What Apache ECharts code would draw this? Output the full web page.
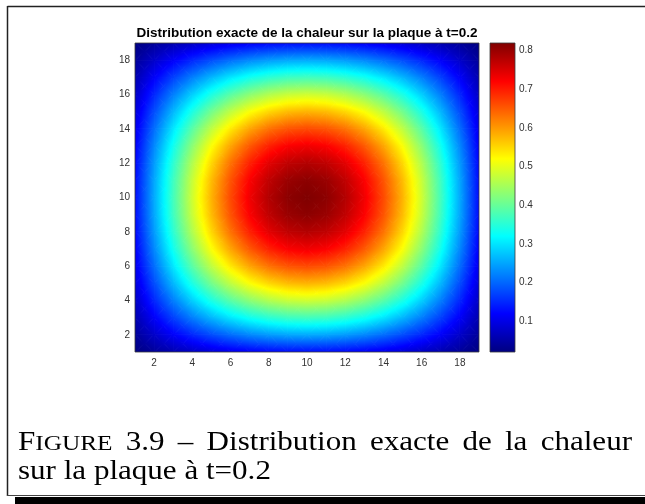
<!DOCTYPE html>
<html><head><meta charset="utf-8">
<script src="https://cdn.jsdelivr.net/npm/echarts@6/dist/echarts.min.js"></script>
<style>html,body{margin:0;padding:0;background:#fff}#c{width:645px;height:504px}</style>
</head><body><div id="c"></div>
<script>
// ---- data ----
const xValues = [1,2,3,4,5,6,7,8,9,10,11,12,13,14,15,16,17,18,19];
const yValues = [1,2,3,4,5,6,7,8,9,10,11,12,13,14,15,16,17,18,19];
const heatValues = [
 [.020,.040,.058,.075,.091,.104,.114,.122,.127,.128,.127,.122,.114,.104,.091,.075,.058,.040,.020],
 [.040,.078,.115,.149,.179,.205,.226,.241,.250,.253,.250,.241,.226,.205,.179,.149,.115,.078,.040],
 [.058,.115,.169,.219,.263,.301,.332,.354,.368,.372,.368,.354,.332,.301,.263,.219,.169,.115,.058],
 [.075,.149,.219,.283,.341,.390,.429,.458,.476,.482,.476,.458,.429,.390,.341,.283,.219,.149,.075],
 [.091,.179,.263,.341,.410,.469,.517,.551,.573,.580,.573,.551,.517,.469,.410,.341,.263,.179,.091],
 [.104,.205,.301,.390,.469,.537,.591,.631,.655,.663,.655,.631,.591,.537,.469,.390,.301,.205,.104],
 [.114,.226,.332,.429,.517,.591,.651,.695,.722,.731,.722,.695,.651,.591,.517,.429,.332,.226,.114],
 [.122,.241,.354,.458,.551,.631,.695,.742,.770,.780,.770,.742,.695,.631,.551,.458,.354,.241,.122],
 [.127,.250,.368,.476,.573,.655,.722,.770,.800,.810,.800,.770,.722,.655,.573,.476,.368,.250,.127],
 [.128,.253,.372,.482,.580,.663,.731,.780,.810,.820,.810,.780,.731,.663,.580,.482,.372,.253,.128],
 [.127,.250,.368,.476,.573,.655,.722,.770,.800,.810,.800,.770,.722,.655,.573,.476,.368,.250,.127],
 [.122,.241,.354,.458,.551,.631,.695,.742,.770,.780,.770,.742,.695,.631,.551,.458,.354,.241,.122],
 [.114,.226,.332,.429,.517,.591,.651,.695,.722,.731,.722,.695,.651,.591,.517,.429,.332,.226,.114],
 [.104,.205,.301,.390,.469,.537,.591,.631,.655,.663,.655,.631,.591,.537,.469,.390,.301,.205,.104],
 [.091,.179,.263,.341,.410,.469,.517,.551,.573,.580,.573,.551,.517,.469,.410,.341,.263,.179,.091],
 [.075,.149,.219,.283,.341,.390,.429,.458,.476,.482,.476,.458,.429,.390,.341,.283,.219,.149,.075],
 [.058,.115,.169,.219,.263,.301,.332,.354,.368,.372,.368,.354,.332,.301,.263,.219,.169,.115,.058],
 [.040,.078,.115,.149,.179,.205,.226,.241,.250,.253,.250,.241,.226,.205,.179,.149,.115,.078,.040],
 [.020,.040,.058,.075,.091,.104,.114,.122,.127,.128,.127,.122,.114,.104,.091,.075,.058,.040,.020]
];
const xTickLabels = ['2','4','6','8','10','12','14','16','18'];
const yTickLabels = ['2','4','6','8','10','12','14','16','18'];
const colorbarTickLabels = ['0.1','0.2','0.3','0.4','0.5','0.6','0.7','0.8'];
const titleText = 'Distribution exacte de la chaleur sur la plaque à t=0.2';
const captionWords1 = ['FIGURE','3.9','–','Distribution','exacte','de','la','chaleur'];
const captionLine2 = 'sur la plaque à t=0.2';

// ---- colour scale ----
const flat = heatValues.flat();
const cmin = Math.min(...flat), cmax = Math.max(...flat);
function jet(t){
  t = Math.max(0, Math.min(1, t));
  const c = x => Math.round(255 * Math.max(0, Math.min(1, 1.5 - Math.abs(x))));
  return 'rgb(' + c(4*t-3) + ',' + c(4*t-2) + ',' + c(4*t-1) + ')';
}
const norm = v => (v - cmin) / (cmax - cmin);

// cells between grid nodes
const cells = [];
for (let r = 0; r < yValues.length - 1; r++) {
  for (let c = 0; c < xValues.length - 1; c++) {
    cells.push([xValues[c], yValues[r], xValues[c+1], yValues[r+1],
      heatValues[r][c], heatValues[r][c+1], heatValues[r+1][c], heatValues[r+1][c+1]]);
  }
}

function tri(P, V){
  const x0=P[0][0], y0=P[0][1];
  const dx1=P[1][0]-x0, dy1=P[1][1]-y0, dx2=P[2][0]-x0, dy2=P[2][1]-y0;
  const dv1=V[1]-V[0], dv2=V[2]-V[0];
  const det = dx1*dy2 - dx2*dy1;
  const a = (dv1*dy2 - dv2*dy1)/det, b = (dx1*dv2 - dx2*dv1)/det;
  const g = Math.hypot(a, b);
  let fill;
  if (!isFinite(g) || g < 1e-12) {
    fill = jet(norm(V[0]));
  } else {
    const nx=a/g, ny=b/g;
    const s = P.map(p => p[0]*nx + p[1]*ny);
    const smin = Math.min(...s), smax = Math.max(...s);
    const L = smax - smin;
    const Ax = x0 + nx*(smin - s[0]), Ay = y0 + ny*(smin - s[0]);
    const vA = V[0] + g*(smin - s[0]);
    const stops = [];
    const K = 6;
    for (let k = 0; k <= K; k++) {
      const t = k/K;
      stops.push({offset: t, color: jet(norm(vA + g*L*t))});
    }
    fill = {type:'linear', x:Ax, y:Ay, x2:Ax+nx*L, y2:Ay+ny*L, colorStops:stops, global:true};
  }
  return {type:'polygon', shape:{points:P}, style:{fill:fill, stroke:fill, lineWidth:1}, silent:true};
}

function renderCell(params, api){
  const X0=api.value(0), Y0=api.value(1), X1=api.value(2), Y1=api.value(3);
  const v00=api.value(4), v10=api.value(5), v01=api.value(6), v11=api.value(7);
  const p00=api.coord([X0,Y0]), p10=api.coord([X1,Y0]), p01=api.coord([X0,Y1]), p11=api.coord([X1,Y1]);
  const pc=[(p00[0]+p11[0])/2, (p00[1]+p11[1])/2];
  const vc=(v00+v10+v01+v11)/4;
  return {type:'group', children:[
    tri([p00,p10,pc],[v00,v10,vc]),
    tri([p10,p11,pc],[v10,v11,vc]),
    tri([p11,p01,pc],[v11,v01,vc]),
    tri([p01,p00,pc],[v01,v00,vc])
  ]};
}

function renderBorder(params, api){
  const a=api.coord([api.value(0), api.value(1)]), b=api.coord([api.value(2), api.value(3)]);
  return {type:'rect', shape:{x:Math.min(a[0],b[0]), y:Math.min(a[1],b[1]), width:Math.abs(b[0]-a[0]), height:Math.abs(b[1]-a[1])},
    style:{fill:'none', stroke:'#3a3a3a', lineWidth:0.8}, silent:true};
}

function renderColorbar(params, api){
  const pb=api.coord([0, api.value(0)]), pt=api.coord([1, api.value(1)]);
  const stops=[];
  for (let k=0;k<=64;k++) stops.push({offset:k/64, color:jet(1-k/64)});
  return {type:'rect', shape:{x:pb[0], y:pt[1], width:pt[0]-pb[0], height:pb[1]-pt[1]},
    style:{fill:{type:'linear',x:0,y:0,x2:0,y2:1,colorStops:stops}, stroke:'#3a3a3a', lineWidth:0.8}, silent:true};
}

// ---- caption layout (justified first line) ----
const serif = '"Liberation Serif", "Times New Roman", serif';
const capSize = 27, scSize = 22, sx = 1.15;
const mctx = document.createElement('canvas').getContext('2d');
function tw(text, size){ mctx.font = size + 'px ' + serif; return mctx.measureText(text).width * sx; }
const capLeft = 18, capRight = 632, base1 = 451, base2 = 480;
const wWidths = captionWords1.map((w,i) => i===0 ? tw(w[0],capSize) + tw(w.slice(1),scSize) : tw(w,capSize));
const gap = (capRight - capLeft - wWidths.reduce((s,v)=>s+v,0)) / (captionWords1.length - 1);
const capGraphics = [];
let cx = capLeft;
function txt(x, base, text, size){
  return {type:'text', x:x, y:base - 0.305*size, scaleX:sx, silent:true,
    style:{text:text, font:size+'px '+serif, fill:'#000', align:'left', textAlign:'left', verticalAlign:'middle', textVerticalAlign:'middle'}};
}
captionWords1.forEach((w,i) => {
  if (i===0) {
    capGraphics.push(txt(cx, base1, w[0], capSize));
    capGraphics.push(txt(cx + tw(w[0],capSize), base1, w.slice(1), scSize));
  } else {
    capGraphics.push(txt(cx, base1, w, capSize));
  }
  cx += wWidths[i] + gap;
});
capGraphics.push(txt(capLeft, base2, captionLine2, capSize));

const sans = '"Liberation Sans", Arial, Helvetica, sans-serif';
const labelColor = '#333333';

const option = {
  animation: false,
  backgroundColor: '#ffffff',
  grid: [
    {left:135, top:43, width:344, height:309},
    {left:490, top:43, width:25, height:309}
  ],
  xAxis: [
    {type:'value', gridIndex:0, min:xValues[0], max:xValues[xValues.length-1], interval:1,
     axisLine:{show:false}, axisTick:{show:false}, splitLine:{show:false},
     axisLabel:{margin:6, color:labelColor, fontSize:10, fontFamily:sans,
       formatter: v => xTickLabels.includes(String(Math.round(v))) && Math.abs(v-Math.round(v))<1e-6 ? String(Math.round(v)) : ''}},
    {type:'value', gridIndex:1, min:0, max:1, show:false}
  ],
  yAxis: [
    {type:'value', gridIndex:0, min:yValues[0], max:yValues[yValues.length-1], interval:1,
     axisLine:{show:false}, axisTick:{show:false}, splitLine:{show:false},
     axisLabel:{margin:5, color:labelColor, fontSize:10, fontFamily:sans,
       formatter: v => yTickLabels.includes(String(Math.round(v))) && Math.abs(v-Math.round(v))<1e-6 ? String(Math.round(v)) : ''}},
    {type:'value', gridIndex:1, position:'right', min:cmin, max:cmax, interval:0.01,
     axisLine:{show:false}, axisTick:{show:false}, splitLine:{show:false},
     axisLabel:{margin:4, color:labelColor, fontSize:10, fontFamily:sans,
       formatter: v => { const s=(Math.round(v*10)/10).toFixed(1); return Math.abs(v*10-Math.round(v*10))<1e-6 && colorbarTickLabels.includes(s) ? s : ''; }}}
  ],
  series: [
    {type:'custom', xAxisIndex:0, yAxisIndex:0, clip:true, silent:true, z:2,
     dimensions:['x0','y0','x1','y1','v00','v10','v01','v11'], encode:{x:[0,2], y:[1,3]},
     renderItem: renderCell, data: cells},
    {type:'custom', xAxisIndex:0, yAxisIndex:0, silent:true, z:4,
     dimensions:['x0','y0','x1','y1'], encode:{x:[0,2], y:[1,3]},
     renderItem: renderBorder,
     data: [[xValues[0], yValues[0], xValues[xValues.length-1], yValues[yValues.length-1]]]},
    {type:'custom', xAxisIndex:1, yAxisIndex:1, silent:true, z:2,
     dimensions:['lo','hi'], encode:{y:[0,1]},
     renderItem: renderColorbar, data: [[cmin, cmax]]}
  ],
  graphic: [
    {type:'line', silent:true, shape:{x1:7.5,y1:6.5,x2:645,y2:6.5}, style:{stroke:'#222',lineWidth:1.5}},
    {type:'line', silent:true, shape:{x1:7.5,y1:6,x2:7.5,y2:496}, style:{stroke:'#222',lineWidth:1.5}},
    {type:'line', silent:true, shape:{x1:7,y1:495.5,x2:645,y2:495.5}, style:{stroke:'#444',lineWidth:1}},
    {type:'rect', silent:true, shape:{x:15,y:497,width:630,height:7}, style:{fill:'#000'}},
    {type:'text', silent:true, x:307, y:37.3 - 0.31*13.5,
     style:{text:titleText, font:'bold 13.5px '+sans, fill:'#000', align:'center', textAlign:'center', verticalAlign:'middle', textVerticalAlign:'middle'}}
  ].concat(capGraphics)
};

const chart = echarts.init(document.getElementById('c'), null, {renderer:'canvas'});
chart.setOption(option);
</script>
</body></html>
